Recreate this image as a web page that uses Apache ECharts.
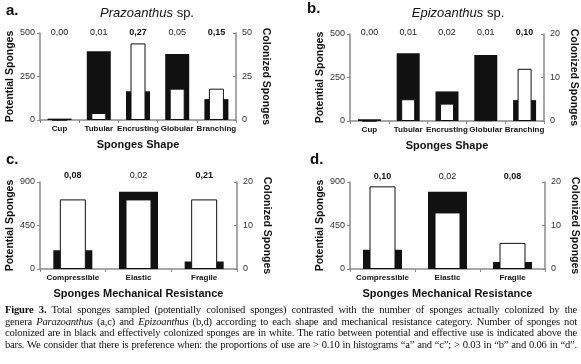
<!DOCTYPE html>
<html>
<head>
<meta charset="utf-8">
<script src="https://cdn.jsdelivr.net/npm/echarts@6/dist/echarts.min.js"></script>
<style>
  html, body { margin: 0; padding: 0; background: #fff; }
  #chart { position: absolute; left: 0; top: 0; width: 581px; height: 364px; }
  #caption { position: absolute; left: 5px; top: 304px; width: 572px; font-family: 'Liberation Serif', 'Times New Roman', serif; font-size: 10.6px; letter-spacing: -0.2px; line-height: 11.6px; color: #111; }
  #caption div { text-align: justify; text-align-last: justify; white-space: nowrap; }
</style>
</head>
<body>
<div id="chart"></div>
<div id="caption">
  <div><b>Figure 3.</b> Total sponges sampled (potentially colonised sponges) contrasted with the number of sponges actually colonized by the</div>
  <div>genera <i>Parazoanthus</i> (a,c) and <i>Epizoanthus</i> (b,d) according to each shape and mechanical resistance category. Number of sponges not</div>
  <div>colonized are in black and effectively colonized sponges are in white. The ratio between potential and effective use is indicated above the</div>
  <div>bars. We consider that there is preference when: the proportions of use are &gt; 0.10 in histograms “a” and “c”; &gt; 0.03 in “b” and 0.06 in “d”.</div>
</div>
<script>
const shapeCats = ['Cup', 'Tubular', 'Encrusting', 'Globular', 'Branching']
const resistCats = ['Compressible', 'Elastic', 'Fragile']

// a. Prazoanthus sp. - shape
const potA = [8, 395, 165, 380, 120]
const colA = [0, 4, 44, 18, 18]
const ratioA = ['0,00', '0,01', '0,27', '0,05', '0,15']
const prefA = [0, 0, 1, 0, 1]

// b. Epizoanthus sp. - shape
const potB = [10, 390, 170, 380, 120]
const colB = [0, 5, 4, 0.2, 12]
const ratioB = ['0,00', '0,01', '0,02', '0,01', '0,10']
const prefB = [0, 0, 0, 0, 1]

// c. Prazoanthus sp. - mechanical resistance
const potC = [195, 800, 78]
const colC = [16, 16, 16]
const ratioC = ['0,08', '0,02', '0,21']
const prefC = [1, 0, 1]

// d. Epizoanthus sp. - mechanical resistance
const potD = [200, 800, 72]
const colD = [19, 13, 6]
const ratioD = ['0,10', '0,02', '0,08']
const prefD = [1, 0, 1]

// axis ranges [max, interval]
const potAxisShape = [500, 250]
const potAxisResist = [900, 450]
const colAxisA = [50, 25]
const colAxisB = [20, 10]
const colAxisC = [20, 10]
const colAxisD = [20, 10]

const FONT = "'Liberation Sans', Arial, sans-serif"
const AXIS_COLOR = '#8a8a8a'

const panels = [
  { cats: shapeCats, pot: potA, col: colA, ratio: ratioA, pref: prefA, potAxis: potAxisShape, colAxis: colAxisA,
    grid: { left: 40, top: 33, width: 196, height: 87 }, barW: [24, 15], xName: 'Sponges Shape', ratioMargin: -4 },
  { cats: shapeCats, pot: potB, col: colB, ratio: ratioB, pref: prefB, potAxis: potAxisShape, colAxis: colAxisB,
    grid: { left: 350, top: 34, width: 194, height: 87 }, barW: [23, 14], xName: 'Sponges Shape', ratioMargin: -3 },
  { cats: resistCats, pot: potC, col: colC, ratio: ratioC, pref: prefC, potAxis: potAxisResist, colAxis: colAxisC,
    grid: { left: 40, top: 182, width: 197, height: 87 }, barW: [39, 26], xName: 'Sponges Mechanical Resistance', ratioMargin: 2 },
  { cats: resistCats, pot: potD, col: colD, ratio: ratioD, pref: prefD, potAxis: potAxisResist, colAxis: colAxisD,
    grid: { left: 350, top: 182, width: 195, height: 87 }, barW: [39, 26], xName: 'Sponges Mechanical Resistance', ratioMargin: 1 }
]

const option = {
  animation: false,
  backgroundColor: '#fff',
  textStyle: { fontFamily: FONT },
  grid: [],
  xAxis: [],
  yAxis: [],
  series: [],
  graphic: [
    { type: 'text', x: 6, y: 11, style: { text: 'a.', font: 'bold 15px ' + FONT, fill: '#111', verticalAlign: 'middle', textVerticalAlign: 'middle' } },
    { type: 'text', x: 307, y: 9, style: { text: 'b.', font: 'bold 15px ' + FONT, fill: '#111', verticalAlign: 'middle', textVerticalAlign: 'middle' } },
    { type: 'text', x: 6, y: 160, style: { text: 'c.', font: 'bold 15px ' + FONT, fill: '#111', verticalAlign: 'middle', textVerticalAlign: 'middle' } },
    { type: 'text', x: 310, y: 160, style: { text: 'd.', font: 'bold 15px ' + FONT, fill: '#111', verticalAlign: 'middle', textVerticalAlign: 'middle' } },
    { type: 'text', x: 147, y: 13, style: { text: '{i|Prazoanthus} sp.', font: '13px ' + FONT, fill: '#111', align: 'center', textAlign: 'center', verticalAlign: 'middle', textVerticalAlign: 'middle',
      rich: { i: { fontStyle: 'italic', fontSize: 13, fontFamily: FONT, fill: '#111' } } } },
    { type: 'text', x: 458, y: 13, style: { text: '{i|Epizoanthus} sp.', font: '13px ' + FONT, fill: '#111', align: 'center', textAlign: 'center', verticalAlign: 'middle', textVerticalAlign: 'middle',
      rich: { i: { fontStyle: 'italic', fontSize: 13, fontFamily: FONT, fill: '#111' } } } }
  ]
}

panels.forEach(function (p, i) {
  option.grid.push(Object.assign({ containLabel: false, outerBoundsMode: 'none' }, p.grid))
  // bottom axis: categories
  option.xAxis.push({
    type: 'category',
    gridIndex: i,
    position: 'bottom',
    data: p.cats,
    name: p.xName,
    nameLocation: 'middle',
    nameGap: 19,
    nameTextStyle: { fontSize: 11, fontWeight: 'bold', color: '#111', fontFamily: FONT },
    axisLine: { show: true, lineStyle: { color: AXIS_COLOR, width: 1.5 } },
    axisTick: { show: true, length: 3, lineStyle: { color: AXIS_COLOR } },
    axisLabel: { interval: 0, margin: 5, fontSize: 8, fontWeight: 'bold', color: '#111', fontFamily: FONT },
    splitLine: { show: false }
  })
  // top axis: ratio between potential and effective use
  option.xAxis.push({
    type: 'category',
    gridIndex: i,
    position: 'top',
    data: p.ratio,
    axisLine: { show: false },
    axisTick: { show: false },
    splitLine: { show: false },
    axisLabel: {
      interval: 0,
      margin: p.ratioMargin,
      fontSize: 9,
      color: '#222',
      fontFamily: FONT,
      formatter: function (v, idx) {
        return p.pref[idx] ? '{b|' + v + '}' : v
      },
      rich: { b: { fontSize: 9, fontWeight: 'bold', color: '#111', fontFamily: FONT } }
    }
  })
  option.yAxis.push({
    type: 'value',
    gridIndex: i,
    position: 'left',
    min: 0,
    max: p.potAxis[0],
    interval: p.potAxis[1],
    name: 'Potential Sponges',
    nameLocation: 'middle',
    nameGap: 24,
    nameTextStyle: { fontSize: 10.5, fontWeight: 'bold', color: '#111', fontFamily: FONT },
    axisLine: { show: true, lineStyle: { color: AXIS_COLOR, width: 1.5 } },
    axisTick: { show: true, length: 3, lineStyle: { color: AXIS_COLOR } },
    axisLabel: { margin: 5, fontSize: 9, color: '#333', fontFamily: FONT },
    splitLine: { show: false }
  })
  option.yAxis.push({
    type: 'value',
    gridIndex: i,
    position: 'right',
    min: 0,
    max: p.colAxis[0],
    interval: p.colAxis[1],
    name: 'Colonized Sponges',
    nameLocation: 'middle',
    nameRotate: -90,
    nameGap: 24,
    nameTextStyle: { fontSize: 10.5, fontWeight: 'bold', color: '#111', fontFamily: FONT },
    axisLine: { show: true, lineStyle: { color: AXIS_COLOR, width: 1.5 } },
    axisTick: { show: true, inside: true, length: 3, lineStyle: { color: AXIS_COLOR } },
    axisLabel: { margin: 6, fontSize: 9, color: '#333', fontFamily: FONT },
    splitLine: { show: false }
  })
  // not colonized / potential (black)
  option.series.push({
    type: 'bar',
    xAxisIndex: 2 * i,
    yAxisIndex: 2 * i,
    data: p.pot,
    barWidth: p.barW[0],
    itemStyle: { color: '#111' },
    silent: true
  })
  // colonized (white)
  option.series.push({
    type: 'bar',
    xAxisIndex: 2 * i + 1,
    yAxisIndex: 2 * i + 1,
    data: p.col,
    barWidth: p.barW[1],
    itemStyle: { color: '#fff', borderColor: '#111', borderWidth: 1 },
    silent: true
  })
})

const chart = echarts.init(document.getElementById('chart'), null, { renderer: 'canvas' })
chart.setOption(option)
window.addEventListener('resize', function () {
  chart.resize()
})
</script>
</body>
</html>
